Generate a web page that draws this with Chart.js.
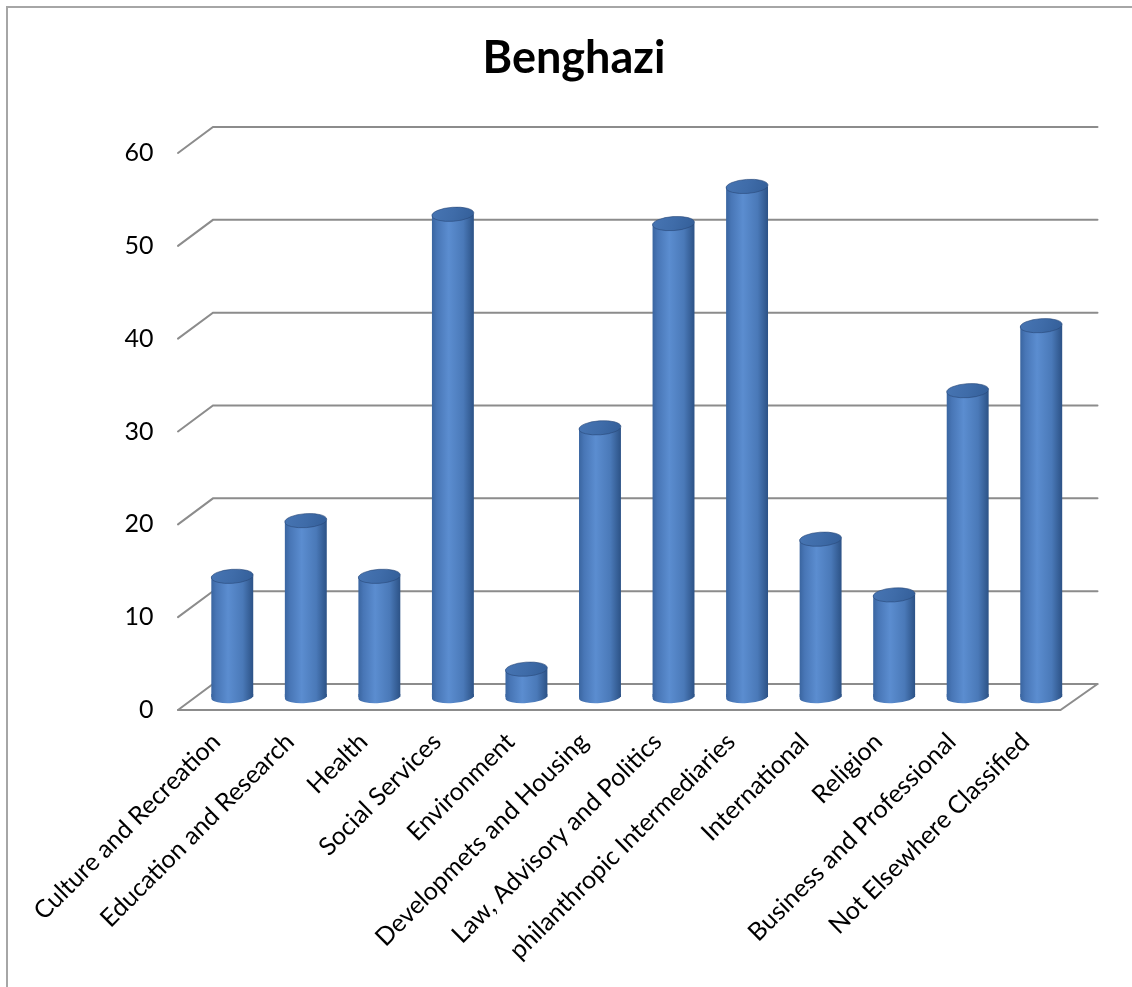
<!DOCTYPE html>
<html>
<head>
<meta charset="utf-8">
<title>Benghazi</title>
<script src="https://cdn.jsdelivr.net/npm/chart.js@4.4.1/dist/chart.umd.min.js"></script>
<style>
  html, body { margin: 0; padding: 0; background: #fff; }
</style>
</head>
<body>
<canvas id="chart" width="1132" height="987"></canvas>
<script>
const categories = [
  'Culture and Recreation', 'Education and Research', 'Health', 'Social Services',
  'Environment', 'Developmets and Housing', 'Law, Advisory and Politics',
  'philanthropic Intermediaries', 'International', 'Religion',
  'Business and Professional', 'Not Elsewhere Classified'
];
const counts = [13, 19, 13, 52, 3, 29, 51, 55, 17, 11, 33, 40];
const yTicks = [0, 10, 20, 30, 40, 50, 60];

// the bars stand halfway into the box; front edge is this far left/down, back wall this far right/up
const DEPTH_X = 17.5;
const DEPTH_Y = 13;
const TILT = -0.07;
const GRID = '#8c8c8c';

function sideGradient(ctx, cx, rx) {
  const g = ctx.createLinearGradient(cx - rx, 0, cx + rx, 0);
  g.addColorStop(0, '#3a65a0');
  g.addColorStop(0.12, '#4876b6');
  g.addColorStop(0.4, '#5b8dd0');
  g.addColorStop(0.75, '#4a79b8');
  g.addColorStop(1, '#2c5286');
  return g;
}

function barFill(context) {
  const chart = context.chart;
  const x = chart.scales.x;
  if (!chart.chartArea || !x) return '#4a7bbf';
  const cx = x.getPixelForValue(context.dataIndex);
  const rx = x.getPixelForValue(1) - x.getPixelForValue(0);
  return sideGradient(chart.ctx, cx, rx * 0.57 / 2);
}

// box walls: back gridlines, the left diagonals and the floor
const box3d = {
  id: 'box3d',
  beforeDraw(chart) {
    const ctx = chart.ctx;
    ctx.save();
    ctx.strokeStyle = '#a6a6a6';
    ctx.lineWidth = 2;
    ctx.strokeRect(7, 7, 1300, 1300);
    ctx.restore();
  },
  beforeDatasetsDraw(chart) {
    const ctx = chart.ctx;
    const y = chart.scales.y;
    const area = chart.chartArea;
    const backL = area.left + DEPTH_X, backR = area.right + DEPTH_X + 2;
    const frontL = area.left - DEPTH_X;
    ctx.save();
    ctx.strokeStyle = GRID;
    ctx.lineWidth = 2;
    ctx.lineCap = 'round';
    yTicks.forEach(v => {
      const py = y.getPixelForValue(v);
      ctx.beginPath();
      ctx.moveTo(frontL, py + DEPTH_Y);
      ctx.lineTo(backL, py - DEPTH_Y);
      ctx.lineTo(backR, py - DEPTH_Y);
      ctx.stroke();
    });
    // floor front edge and right side
    const py0 = y.getPixelForValue(0);
    ctx.beginPath();
    ctx.moveTo(frontL, py0 + DEPTH_Y);
    ctx.lineTo(area.right - DEPTH_X, py0 + DEPTH_Y);
    ctx.lineTo(backR, py0 - DEPTH_Y);
    ctx.stroke();
    ctx.restore();
  },
  afterDatasetsDraw(chart) {
    const ctx = chart.ctx;
    const meta = chart.getDatasetMeta(0);
    ctx.save();
    meta.data.forEach(bar => {
      const { x, y, base, width } = bar.getProps(['x', 'y', 'base', 'width'], true);
      const rx = width / 2;
      // rounded bottom of the cylinder, overlapping the bar a little
      ctx.beginPath();
      ctx.moveTo(x - rx, base - 3);
      ctx.lineTo(x + rx, base - 3);
      ctx.ellipse(x, base, rx, 6, TILT, 0, Math.PI);
      ctx.closePath();
      ctx.fillStyle = sideGradient(ctx, x, rx);
      ctx.fill();
      // top cap
      const g = ctx.createLinearGradient(x - rx, y - 7, x + rx, y + 7);
      g.addColorStop(0, '#4775b3');
      g.addColorStop(0.5, '#3f6ca9');
      g.addColorStop(1, '#335e98');
      ctx.beginPath();
      ctx.ellipse(x, y, rx, 7, TILT, 0, Math.PI * 2);
      ctx.fillStyle = g;
      ctx.fill();
      ctx.strokeStyle = 'rgba(40, 72, 120, 0.6)';
      ctx.lineWidth = 1;
      ctx.stroke();
    });
    ctx.restore();
  }
};

new Chart(document.getElementById('chart'), {
  type: 'bar',
  data: {
    labels: categories,
    datasets: [{
      data: counts,
      backgroundColor: barFill,
      borderWidth: 0,
      barPercentage: 0.57,
      categoryPercentage: 1
    }]
  },
  options: {
    responsive: false,
    animation: false,
    layout: { padding: { left: 70, right: 54, top: 0, bottom: 0 } },
    plugins: {
      legend: { display: false },
      tooltip: { enabled: false },
      title: {
        display: true,
        text: 'Benghazi',
        color: '#000',
        font: { family: 'Lato', size: 45, weight: 'bold' },
        padding: { top: 31, bottom: 55 }
      }
    },
    scales: {
      x: {
        grid: { display: false, drawTicks: false },
        border: { display: false },
        ticks: {
          color: '#000',
          font: { family: 'Lato', size: 25 },
          autoSkip: false,
          minRotation: 45,
          maxRotation: 45,
          padding: 30,
          labelOffset: -16
        },
        afterFit(scale) { scale.height = 290; }
      },
      y: {
        min: 0,
        max: 60,
        grid: { display: false, drawTicks: false },
        border: { display: false },
        ticks: {
          stepSize: 10,
          color: '#000',
          font: { family: 'Lato', size: 25 },
          padding: 42,
          labelOffset: DEPTH_Y
        },
        afterFit(scale) { scale.width = 125.5; }
      }
    }
  },
  plugins: [box3d]
});
</script>
</body>
</html>
